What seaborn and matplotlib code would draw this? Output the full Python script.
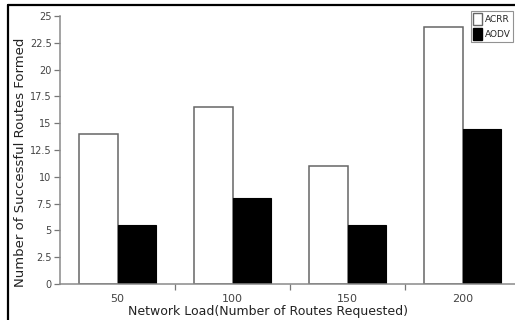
import matplotlib
matplotlib.use("Agg")
import matplotlib.pyplot as plt
from matplotlib.lines import Line2D
from matplotlib.patches import Patch
import seaborn as sns
import pandas as pd

loads = ["50", "100", "150", "200"]
acrr = [14, 16.5, 11, 24]
aodv = [5.5, 8, 5.5, 14.5]
series = ["ACRR", "AODV"]
yticks = [0, 2.5, 5, 7.5, 10, 12.5, 15, 17.5, 20, 22.5, 25]
ytick_labels = ["0", "2.5", "5", "7.5", "10", "12.5", "15", "17.5", "20", "22.5", "25"]

df = pd.DataFrame({
    "load": loads * 2,
    "value": acrr + aodv,
    "series": [series[0]] * len(loads) + [series[1]] * len(loads),
})

sns.set_theme(style="white")
plt.rcParams["font.family"] = ["DejaVu Sans"]

W, H = 515, 320
fig = plt.figure(figsize=(W / 100, H / 100), dpi=100)
ax = fig.add_axes([60 / W, (H - 284) / H, (520 - 60) / W, (284 - 16) / H])

sns.barplot(data=df, x="load", y="value", hue="series", order=loads,
            hue_order=series, palette=["white", "black"], width=0.67,
            gap=0, saturation=1, ax=ax, legend=False)

for p in ax.patches:
    fc = p.get_facecolor()
    if fc[0] > 0.5:
        p.set_edgecolor("#666666")
        p.set_linewidth(1.1)
    else:
        p.set_edgecolor("black")
        p.set_linewidth(0.8)

ax.set_xlim(-0.5, 3.5)
ax.set_ylim(0, 25)
ax.set_yticks(yticks)
ax.set_yticklabels(ytick_labels)
ax.set_xticks(range(len(loads)))
ax.set_xticklabels(loads)
ax.set_xticks([0.5, 1.5, 2.5], minor=True)

for s in ["top", "right"]:
    ax.spines[s].set_visible(False)
for s in ["left", "bottom"]:
    ax.spines[s].set_color("#8a8a8a")
    ax.spines[s].set_linewidth(1.1)

ax.tick_params(axis="y", which="major", left=True, length=4, width=0.9,
               color="#777777", labelsize=7, labelcolor="#444444", pad=2)
ax.tick_params(axis="x", which="major", bottom=False, labelsize=8,
               labelcolor="#444444", pad=1.5)
ax.tick_params(axis="x", which="minor", bottom=True, length=4, width=0.9,
               color="#777777")

ax.set_xlabel("Network Load(Number of Routes Requested)", fontsize=9,
              color="#222222")
ax.xaxis.set_label_coords((268.5 - 60) / (520 - 60), -(311.5 - 284) / (284 - 16))
ax.xaxis.label.set_va("center")
ax.set_ylabel("Number of Successful Routes Formed", fontsize=9.5,
              color="#222222")
ax.yaxis.set_label_coords(-(60 - 21) / (520 - 60), (284 - 162.5) / (284 - 16))
ax.yaxis.label.set_va("center")

handles = [Patch(facecolor="white", edgecolor="#666666", label=series[0]),
           Patch(facecolor="black", edgecolor="black", label=series[1])]
leg = fig.legend(handles=handles, loc="upper left",
                 bbox_to_anchor=(471 / W, (H - 11) / H), fontsize=6.5,
                 frameon=True, fancybox=False, handlelength=1.0,
                 handleheight=1.6, handletextpad=0.25, borderpad=0.25,
                 labelspacing=0.35, borderaxespad=0)
leg.get_frame().set_edgecolor("#777777")
leg.get_frame().set_linewidth(0.8)

# page frame lines from the screenshot
fig.add_artist(Line2D([8 / W, 1], [(H - 5) / H, (H - 5) / H], color="black",
                      linewidth=1.6, transform=fig.transFigure))
fig.add_artist(Line2D([8 / W, 8 / W], [0, (H - 5) / H], color="black",
                      linewidth=1.6, transform=fig.transFigure))

fig.savefig("out.png", dpi=100)
